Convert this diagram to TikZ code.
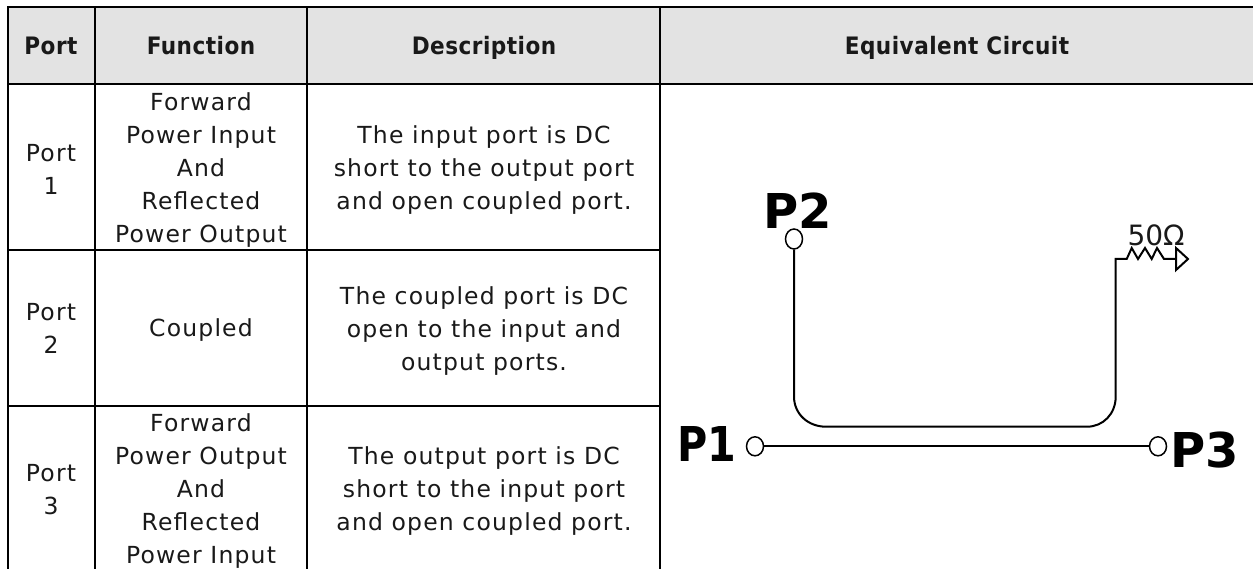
\documentclass[tikz,border=0pt]{standalone}
\usepackage{fontspec}
\setmainfont[LetterSpace=5]{DejaVu Sans}
\newfontfamily\headfont[LetterSpace=2]{DejaVu Sans Condensed}
\newfontfamily\bigfont{DejaVu Sans}
\newfontfamily\ohmfont{DejaVu Sans}
\usetikzlibrary{shapes.geometric}
\tikzset{
  x=1pt,y=-1pt,
  grid/.style={draw=black,line width=2pt},
  cell/.style={font=\fontsize{23.5}{33}\selectfont,align=center,inner sep=0,text=black!90},
  head/.style={font=\headfont\fontsize{24}{33}\selectfont\bfseries,anchor=base,inner sep=0,text=black!90},
  ring/.style={draw=black,line width=1.5pt,ellipse,fill=white,inner sep=0,minimum width=17pt,minimum height=20pt},
  big/.style={font=\bigfont\fontsize{48}{48}\selectfont\bfseries,inner sep=0},
  wire/.style={draw=black,line width=2pt}
}
\begin{document}
\begin{tikzpicture}
\useasboundingbox (0,0) rectangle (1253,569);
\fill[black!11] (8,7) rectangle (1253,84.5);
\draw[grid] (7.5,569) -- (7.5,7) -- (1253,7);
\draw[grid] (7.5,84.5) -- (1253,84.5);
\draw[grid] (95,7) -- (95,569);
\draw[grid] (306.7,7) -- (306.7,569);
\draw[grid] (660,7) -- (660,569);
\draw[grid] (7.5,250.5) -- (660,250.5);
\draw[grid] (7.5,405.5) -- (660,405.5);
\node[head] (h1) at (51,54.5) {Port};
\node[head] (h2) at (201,54.5) {Function};
\node[head] (h3) at (484,54.5) {Description};
\node[head] (h4) at (957,54.5) {Equivalent Circuit};
\node[cell] (p1) at (51,169) {Port\\1};
\node[cell] (p2) at (51,328.5) {Port\\2};
\node[cell] (p3) at (51,490) {Port\\3};
\node[cell] (f1) at (201,170) {Forward\\Power Input\\And\\Reflected\\Power Output};
\node[cell] (f2) at (201,330) {Coupled};
\node[cell] (f3) at (201,491) {Forward\\Power Output\\And\\Reflected\\Power Input};
\node[cell] (d1) at (484,170) {The input port is DC\\short to the output port\\and open coupled port.};
\node[cell] (d2) at (484,331) {The coupled port is DC\\open to the input and\\output ports.};
\node[cell] (d3) at (484,491) {The output port is DC\\short to the input port\\and open coupled port.};
% circuit
\node[ring] (c2) at (794,239) {};
\node[ring,minimum height=19pt] (c1) at (755,446.3) {};
\node[ring,minimum height=19pt] (c3) at (1158,446.3) {};
\node[big] (lp2) at (798,210.5) {P2};
\node[big] (lp1) at (706.5,444.5) {\scalebox{.86}[1]{P1}};
\node[big] (lp3) at (1205,450.5) {P3};
\node[font=\ohmfont\fontsize{28}{28}\selectfont,inner sep=0,text=black!90] (ohm) at (1156,235) {50Ω};
\coordinate (bend) at (1115.7,259);
\coordinate (tip) at (1176,259);
\draw[wire] (c1) -- (c3);
\draw[wire,line join=miter] (c2.south) -- (794,396.5) .. controls (794,414) and (808,426.7) .. (826,426.7) -- (1087,426.7) .. controls (1103,426.7) and (1115.7,414) .. (1115.7,396.5) -- (bend) -- (1126.7,259) -- (1131.7,248) -- (1138,259) -- (1145,248) -- (1151.7,259) -- (1157,248) -- (1164,259) -- (tip);
\draw[wire,line join=miter] (tip) -- (1176,248) -- (1188,259) -- (1176,270) -- cycle;
\end{tikzpicture}
\end{document}
